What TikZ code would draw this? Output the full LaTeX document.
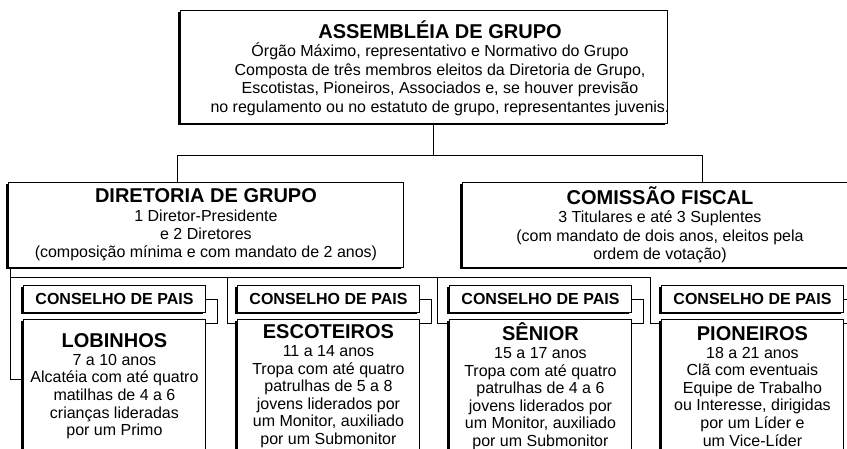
\documentclass[tikz,border=0pt]{standalone}
\usepackage{fontspec}
\setmainfont{Liberation Sans}
\usetikzlibrary{shadows}

\begin{document}
\begin{tikzpicture}[x=1pt,y=-1pt,line width=0.9pt,
  box/.style={draw,fill=white,anchor=north west,inner sep=0pt,align=center,
    font=\fontsize{16}{18.4}\selectfont,
    drop shadow={shadow xshift=-2pt,shadow yshift=-2pt,fill=black,opacity=1}},
  topbox/.style={box,minimum width=487pt,minimum height=113pt},
  midbox/.style={box,minimum width=395pt,minimum height=85pt},
  paisbox/.style={box,minimum width=182pt,minimum height=27pt,font=\fontsize{16}{18.4}\selectfont\bfseries},
  unitbox/.style={box,minimum width=182pt,minimum height=134pt,font=\fontsize{16}{17.6}\selectfont}]
\newcommand{\boxtitle}[1]{{\fontsize{20}{23}\selectfont\bfseries #1}}

\useasboundingbox (0,0) rectangle (847,448);

\node[topbox] (asm) at (180,10) {};
\node[align=center,inner sep=0pt,font=\fontsize{16}{18.4}\selectfont] (asmtxt) at (440,68)
  {\boxtitle{ASSEMBLÉIA DE GRUPO}\\
   Órgão Máximo, representativo e Normativo do Grupo\\
   Composta de três membros eleitos da Diretoria de Grupo,\\
   Escotistas, Pioneiros, Associados e, se houver previsão\\
   no regulamento ou no estatuto de grupo, representantes juvenis.};

\node[midbox] (dir) at (8,182)
  {\boxtitle{DIRETORIA DE GRUPO}\\
   1 Diretor-Presidente\\
   e 2 Diretores\\
   (composição mínima e com mandato de 2 anos)};
\node[midbox] (com) at (462,182)
  {\boxtitle{COMISSÃO FISCAL}\\
   3 Titulares e até 3 Suplentes\\
   (com mandato de dois anos, eleitos pela\\
   ordem de votação)};

\foreach \i/\xl in {1/23,2/237,3/449,4/661}
  \node[paisbox] (pais\i) at (\xl,285) {CONSELHO DE PAIS};

\node[unitbox] (lob) at (23,319)
  {\boxtitle{LOBINHOS}\\
   7 a 10 anos\\
   Alcatéia com até quatro\\
   matilhas de 4 a 6\\
   crianças lideradas\\
   por um Primo};
\node[unitbox] (esc) at (237,319)
  {\boxtitle{ESCOTEIROS}\\
   11 a 14 anos\\
   Tropa com até quatro\\
   patrulhas de 5 a 8\\
   jovens liderados por\\
   um Monitor, auxiliado\\
   por um Submonitor};
\node[unitbox] (sen) at (449,319)
  {\boxtitle{SÊNIOR}\\
   15 a 17 anos\\
   Tropa com até quatro\\
   patrulhas de 4 a 6\\
   jovens liderados por\\
   um Monitor, auxiliado\\
   por um Submonitor};
\node[unitbox] (pio) at (661,319)
  {\boxtitle{PIONEIROS}\\
   18 a 21 anos\\
   Clã com eventuais\\
   Equipe de Trabalho\\
   ou Interesse, dirigidas\\
   por um Líder e\\
   um Vice-Líder};

\foreach \i/\u in {1/lob,2/esc,3/sen,4/pio}
  \draw (pais\i.east) -- ++(12,0) |- ([yshift=-4pt]\u.north east);

\coordinate (hub) at (433,155);
\coordinate (dirin) at (177,155);
\coordinate (comin) at (702,155);
\draw (asm.south -| hub) -- (hub);
\draw (dir.north -| dirin) -- (dirin) -- (comin) -- (com.north -| comin);

\coordinate (bus) at (10,277);
\coordinate (escin) at (227,277);
\coordinate (senin) at (437,277);
\coordinate (pioin) at (650,277);
\draw (dir.south -| bus) -- (bus) -- (pioin);
\draw (bus) |- ([yshift=-60pt]lob.north west);
\draw (escin) |- ([yshift=-4pt]esc.north west);
\draw (senin) |- ([yshift=-4pt]sen.north west);
\draw (pioin) |- ([yshift=-4pt]pio.north west);
\end{tikzpicture}
\end{document}
